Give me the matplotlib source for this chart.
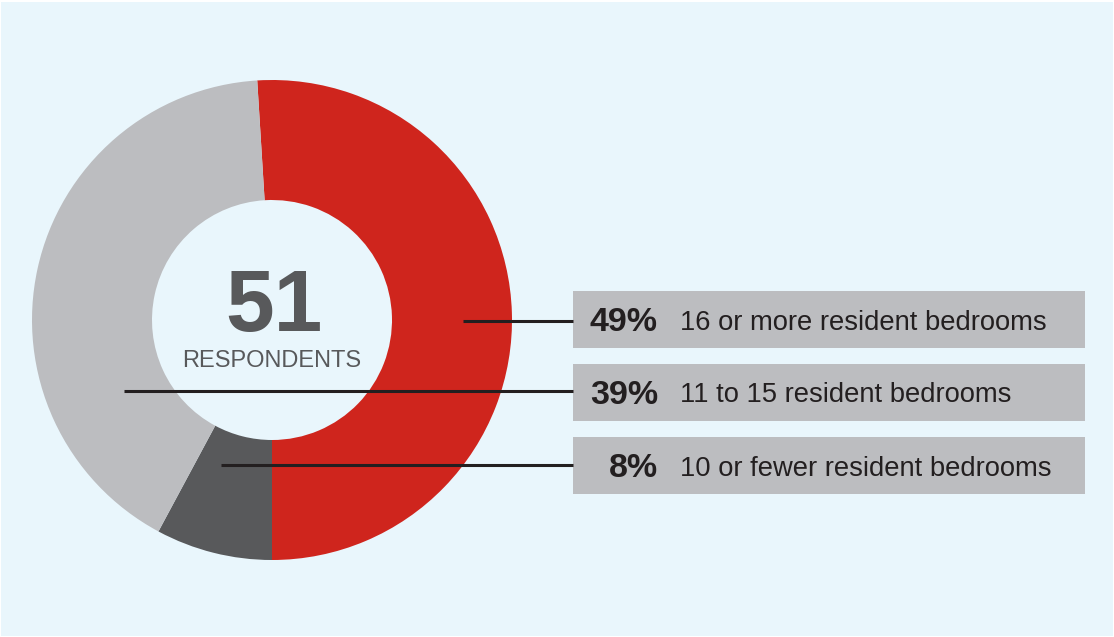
import matplotlib
matplotlib.use("Agg")
import matplotlib.pyplot as plt
from matplotlib.patches import Rectangle

# ---- data ----
categories = ["16 or more resident bedrooms", "11 to 15 resident bedrooms", "10 or fewer resident bedrooms"]
pct_labels = ["49%", "39%", "8%"]
respondent_counts = [26, 21, 4]   # slice sizes as drawn
total_respondents = "51"
center_caption = "RESPONDENTS"

# ---- style ----
W, H = 1114, 637
BG = "#E9F6FC"
RED = "#CF251D"
LIGHT = "#BCBDC0"
DARK = "#58595B"
TXT = "#231F20"
colors = {0: RED, 1: LIGHT, 2: DARK}

fig = plt.figure(figsize=(W / 100, H / 100), dpi=100, facecolor="white")
ax = fig.add_axes([0, 0, 1, 1])
ax.set_facecolor("white")

def Y(y):
    return H - y

# background panel
ax.add_patch(Rectangle((1, 1), W - 2, H - 3, facecolor=BG, edgecolor="none", zorder=0))

cx, cy = 272, Y(320)
R_out, R_in = 240, 120
total = sum(respondent_counts)
# draw order clockwise: red, dark, light
order = [0, 2, 1]
vals = [respondent_counts[i] for i in order]
cols = [colors[i] for i in order]
start = -90 + 360 * respondent_counts[0] / total
ax.pie(vals, colors=cols, startangle=start, counterclock=False,
       center=(cx, cy), radius=R_out,
       wedgeprops=dict(width=R_out - R_in, edgecolor="none", linewidth=0))

ax.set_xlim(0, W)
ax.set_ylim(0, H)
ax.set_aspect("auto")
ax.axis("off")

# center text
ax.text(cx + 2, Y(309), total_respondents, ha="center", va="center", fontsize=63,
        fontweight="bold", color=DARK, family="Liberation Sans")
ax.text(cx, Y(361), center_caption, ha="center", va="center", fontsize=17,
        color=DARK, family="Liberation Sans")

# label boxes and leader lines
box_tops = [291, 364, 437]
box_h = 57
box_x0, box_x1 = 573, 1085
line_start_x = [463, 124, 221]
line_y = [321, 391, 465]
for i in range(3):
    ax.add_patch(Rectangle((box_x0, Y(box_tops[i] + box_h)), box_x1 - box_x0, box_h,
                           facecolor=LIGHT, edgecolor="none", zorder=2))
    ax.plot([line_start_x[i], box_x0], [Y(line_y[i]), Y(line_y[i])], color=TXT,
            lw=2.2, solid_capstyle="butt", zorder=3)
    ymid = Y(box_tops[i] + box_h / 2 + 3)
    ax.text(658, ymid, pct_labels[i], ha="right", va="center", fontsize=24.5,
            fontweight="bold", color=TXT, family="Liberation Sans", zorder=4)
    ax.text(680, ymid, categories[i], ha="left", va="center", fontsize=19.7,
            color=TXT, family="Liberation Sans", zorder=4)

fig.savefig("out.png", dpi=100, facecolor="white")
